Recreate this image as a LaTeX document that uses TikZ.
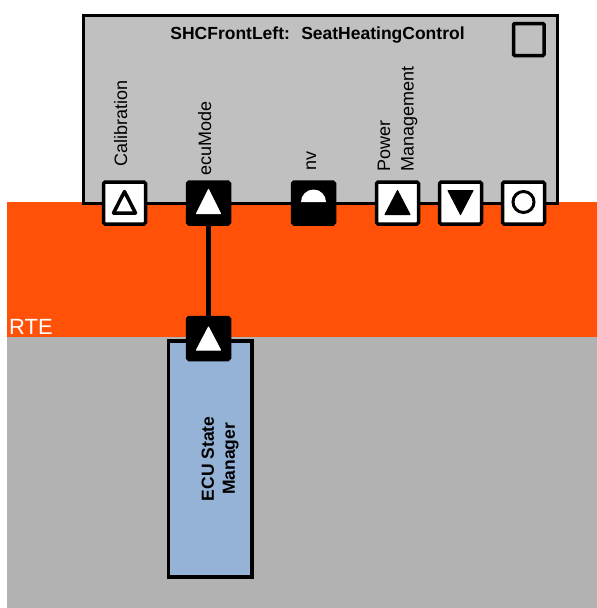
\documentclass[tikz,border=0pt]{standalone}
\usepackage{fontspec}
\setmainfont{Liberation Sans}
\definecolor{rteorange}{HTML}{FF5208}
\definecolor{swcgray}{HTML}{C0C0C0}
\definecolor{bswgray}{HTML}{B2B2B2}
\definecolor{esmblue}{HTML}{95B3D7}

\begin{document}
\begin{tikzpicture}[x=1pt,y=-1pt,
  port/.style={draw,fill=white,line width=3.5pt,rounded corners=1.5pt,minimum size=42pt,inner sep=0pt},
  portdark/.style={port,fill=black},
  portlabel/.style={rotate=90,inner sep=0pt,align=left,font=\fontsize{18}{23.5}\selectfont},
  boxlabel/.style={rotate=90,inner sep=0pt,align=center,font=\bfseries\fontsize{17.5}{21}\selectfont}]
\useasboundingbox (0,0) rectangle (597,608);
% layers
\fill[bswgray] (7,337) rectangle (597,608);
\fill[rteorange] (7,202) rectangle (597,337);
\node[anchor=base west,inner sep=0pt,text=white,font=\fontsize{22}{26}\selectfont] (rte) at (9,334) {RTE};
% component
\node[draw,fill=swcgray,line width=3pt,inner sep=0pt,minimum width=474pt,minimum height=188.5pt,anchor=north west] (shc) at (81.5,13.5) {};
\node[anchor=base,inner sep=0pt,font=\bfseries\fontsize{17.5}{21}\selectfont] (shctitle) at (317.5,39) {SHCFrontLeft: \ SeatHeatingControl};
\draw[line width=3.5pt,rounded corners=1pt] (513.5,23.5) rectangle (544,55.5);
% basic software
\node[draw,fill=esmblue,line width=3.5pt,inner sep=0pt,minimum width=83.5pt,minimum height=236pt,anchor=north west] (esm) at (166.5,339) {};
\node[boxlabel] (esmlabel) at ([xshift=10pt]esm.center) {ECU State\\Manager};
% ports
\foreach \n/\x/\s in {calport/124.5/port,ecuport/208.5/portdark,nvport/313.5/portdark,pwrport/397.5/port,downport/460.5/port,cirport/523.5/port}
  \node[\s] (\n) at (\x,203) {};
\node[portdark] (esmport) at (208.5,338.5) {};
\draw[line width=5pt] (ecuport) -- (esmport);
% port symbols
\begin{scope}[shift={(calport)}]
\draw[line width=3.5pt,line join=round] (0,-11.5) -- (11,10) -- (-11,10) -- cycle;
\end{scope}
\begin{scope}[shift={(ecuport)}]
\filldraw[white,line width=1pt,line join=round] (0,-13.5) -- (12,10.5) -- (-12,10.5) -- cycle;
\end{scope}
\begin{scope}[shift={(nvport)}]
\fill[white] (-12.5,-1) arc[start angle=180,end angle=360,radius=12.5] -- cycle;
\end{scope}
\begin{scope}[shift={(pwrport)}]
\filldraw[line width=1pt,line join=round] (0,-12.5) -- (12.5,11.5) -- (-12.5,11.5) -- cycle;
\end{scope}
\begin{scope}[shift={(downport)}]
\filldraw[line width=1pt,line join=round] (0,11.5) -- (12.5,-12.5) -- (-12.5,-12.5) -- cycle;
\end{scope}
\begin{scope}[shift={(cirport)}]
\draw[line width=3pt] (0,-1) circle[radius=10.5];
\end{scope}
\begin{scope}[shift={(esmport)}]
\filldraw[white,line width=1pt,line join=round] (0,-11.5) -- (12,11.5) -- (-12,11.5) -- cycle;
\end{scope}
% port labels
\node[portlabel,anchor=mid west] (callabel) at ([yshift=14pt]calport.north) {Calibration};
\node[portlabel,anchor=mid west] (eculabel) at ([yshift=5pt]ecuport.north) {ecuMode};
\node[portlabel,anchor=mid west] (nvlabel) at ([yshift=10pt]nvport.north) {nv};
\node[portlabel,anchor=west] (pwrlabel) at ([yshift=9pt]pwrport.north) {Power\\Management};
\end{tikzpicture}
\end{document}
